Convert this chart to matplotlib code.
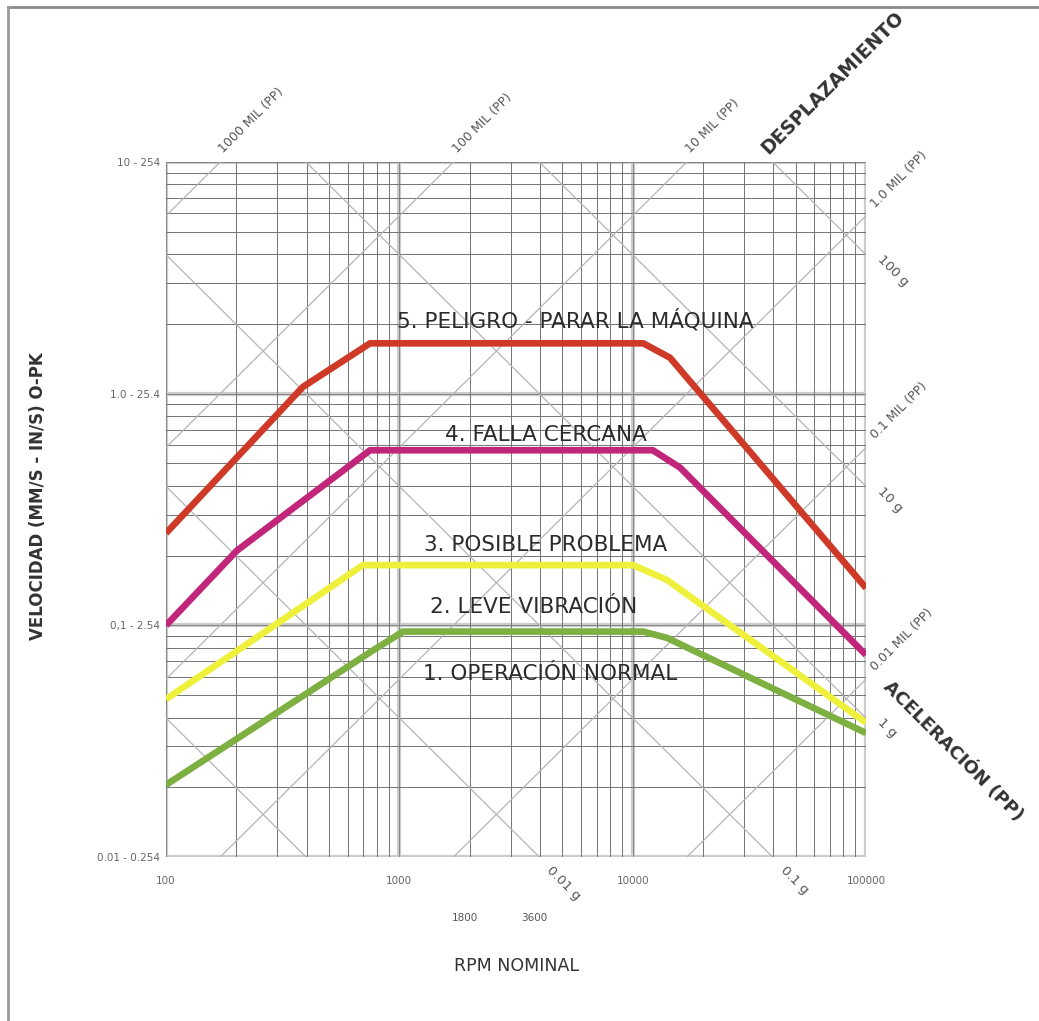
import numpy as np
import matplotlib.pyplot as plt
from matplotlib.lines import Line2D

# severity curves (rpm, velocity in/s o-pk)
green_rpm = [100, 771, 1037, 11100, 14030, 100000]
green_vel = [0.0205, 0.078, 0.094, 0.094, 0.0883, 0.0343]

yellow_rpm = [100, 698, 10050, 14030, 100000]
yellow_vel = [0.048, 0.182, 0.182, 0.157, 0.038]

magenta_rpm = [100, 201, 749, 12200, 15950, 100000]
magenta_vel = [0.10, 0.21, 0.57, 0.57, 0.48, 0.0745]

red_rpm = [100, 386, 749, 11100, 14450, 100000]
red_vel = [0.25, 1.07, 1.65, 1.65, 1.43, 0.145]

zone_labels = ["1. OPERACIÓN NORMAL", "2. LEVE VIBRACIÓN", "3. POSIBLE PROBLEMA",
               "4. FALLA CERCANA", "5. PELIGRO - PARAR LA MÁQUINA"]
zone_label_rpm = [4425, 3775, 4255, 4255, 5660]
zone_label_vel = [0.0617, 0.12, 0.222, 0.664, 2.08]

# constant displacement (mil pp) and acceleration (g) lines
disp_mils = [1000, 100, 10, 1.0, 0.1, 0.01]
disp_labels = ["1000 MIL (PP)", "100 MIL (PP)", "10 MIL (PP)",
               "1.0 MIL (PP)", "0.1 MIL (PP)", "0.01 MIL (PP)"]
accel_g = [100, 10, 1, 0.1, 0.01, 0.001]
accel_labels = ["100 g", "10 g", "1 g", "0.1 g", "0.01 g", ""]
DISP_K = 10 ** -4.232   # V = K * D * rpm (as drawn on the chart)
ACC_K = 10 ** 3.6       # V = K * A / rpm

x_ticks = [100, 1000, 10000, 100000]
x_tick_labels = ["100", "1000", "10000", "100000"]
y_ticks = [0.01, 0.1, 1.0, 10]
y_tick_labels = ["0.01 - 0.254", "0,1 - 2.54", "1.0 - 25.4", "10 - 254"]
nominal_rpm = [1800, 3600]

XMIN, XMAX, YMIN, YMAX = 100, 100000, 0.01, 10

fig = plt.figure(figsize=(10.39, 10.21), dpi=100)
ax = fig.add_axes([0.1598, 0.1606, 0.6737, 0.6807])
ax.set_xscale('log')
ax.set_yscale('log')
ax.set_xlim(XMIN, XMAX)
ax.set_ylim(YMIN, YMAX)

# hand-made log grid
for dec in [100, 1000, 10000]:
    for m in range(2, 10):
        ax.axvline(dec * m, color='#737373', lw=0.7, zorder=1)
for dec in [0.01, 0.1, 1.0]:
    for m in range(2, 10):
        ax.axhline(dec * m, color='#737373', lw=0.7, zorder=1)
for v in x_ticks:
    ax.axvline(v, color='#cccccc', lw=3, zorder=0.9)
    ax.axvline(v, color='#7a7a7a', lw=0.6, zorder=1)
for v in y_ticks:
    ax.axhline(v, color='#cccccc', lw=3, zorder=0.9)
    ax.axhline(v, color='#7a7a7a', lw=0.6, zorder=1)

xs = np.array([XMIN, XMAX], dtype=float)
for d, lab in zip(disp_mils, disp_labels):
    ax.plot(xs, DISP_K * d * xs, color='#b5b5b5', lw=0.9, zorder=1.2)
    x_top = YMAX / (DISP_K * d)
    if x_top <= XMAX:
        pt, off = (x_top, YMAX), (4, 5)
    else:
        pt, off = (XMAX, DISP_K * d * XMAX), (8, 4)
    ax.annotate(lab, xy=pt, xytext=off, textcoords='offset points',
                rotation=45, ha='left', va='bottom', fontsize=9,
                color='#555555', rotation_mode='anchor', annotation_clip=False)

for a, lab in zip(accel_g, accel_labels):
    ax.plot(xs, ACC_K * a / xs, color='#b5b5b5', lw=0.9, zorder=1.2)
    if not lab:
        continue
    v_right = ACC_K * a / XMAX
    if v_right >= YMIN:
        pt, off = (XMAX, v_right), (10, -2)
    else:
        pt, off = (ACC_K * a / YMIN, YMIN), (7, -8)
    ax.annotate(lab, xy=pt, xytext=off, textcoords='offset points',
                rotation=-45, ha='left', va='center', fontsize=9.5,
                color='#555555', rotation_mode='anchor', annotation_clip=False)

curve_style = dict(lw=4.8, solid_joinstyle='round', solid_capstyle='butt', zorder=3)
ax.plot(green_rpm, green_vel, color='#7db041', **curve_style)
ax.plot(yellow_rpm, yellow_vel, color='#eef03c', **curve_style)
ax.plot(magenta_rpm, magenta_vel, color='#c2267a', **curve_style)
ax.plot(red_rpm, red_vel, color='#cf3a28', **curve_style)

for lab, x, y in zip(zone_labels, zone_label_rpm, zone_label_vel):
    ax.text(x, y, lab, fontsize=15.5, color='#2b2b2b', ha='center', va='center',
            zorder=4)

ax.set_xticks(x_ticks)
ax.set_xticklabels(x_tick_labels, fontsize=7.5, color='#666666')
ax.set_yticks(y_ticks)
ax.set_yticklabels(y_tick_labels, fontsize=7.5, color='#666666')
ax.minorticks_off()
ax.tick_params(length=0, pad=14)
ax.tick_params(axis='y', pad=4)
for s in ax.spines.values():
    s.set_visible(False)

for r in nominal_rpm:
    ax.annotate(str(r), xy=(r, YMIN), xytext=(4, -44), textcoords='offset points',
                ha='center', va='center', fontsize=7.5, color='#555555',
                annotation_clip=False)

ax.set_xlabel("RPM NOMINAL", fontsize=12.5, color='#333333', labelpad=51)
ax.set_ylabel("VELOCIDAD (MM/S - IN/S) O-PK", fontsize=12, fontweight='bold',
              color='#333333')
ax.yaxis.set_label_coords(-0.17, 0.52)

fig.text(0.742, 0.845, "DESPLAZAMIENTO", rotation=45, rotation_mode='anchor',
         ha='left', va='bottom', fontsize=13.5, fontweight='bold', color='#333333')
fig.text(0.853, 0.33, "ACELERACIÓN (PP)", rotation=-45, rotation_mode='anchor',
         ha='left', va='center', fontsize=13, fontweight='bold', color='#333333')

# screenshot frame
fig.add_artist(Line2D([0.008, 1.0], [0.993, 0.993], color='#8a8a8a', lw=2))
fig.add_artist(Line2D([0.008, 0.008], [0.0, 0.993], color='#9a9a9a', lw=2))

fig.savefig('out.png', dpi=100, facecolor='white')
